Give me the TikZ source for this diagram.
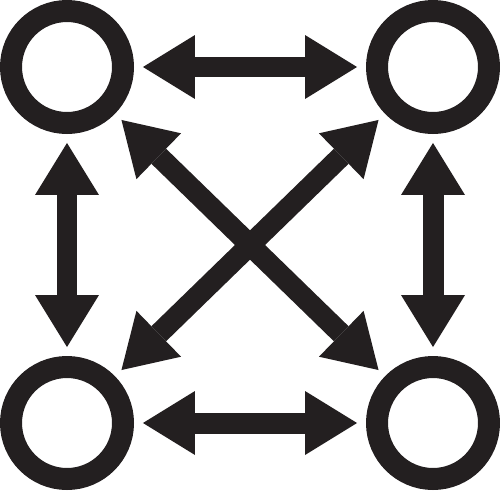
\documentclass[tikz,border=0pt]{standalone}
\usetikzlibrary{arrows.meta}
\definecolor{ink}{HTML}{231F20}

\begin{document}
\begin{tikzpicture}[x=0.02cm, y=-0.02cm,
            ring/.style={circle, draw=ink, line width=0.44cm, minimum size=2.24cm, inner sep=0pt, outer sep=0pt},
            head/.tip={Triangle[length=1.04cm 0 0, width=1.28cm 0 0, line width=0pt 0]},
            link/.style={draw=ink, line width=0.42cm, head-head, shorten <=0.4cm, shorten >=0.4cm}
        ]
            \useasboundingbox (0,0) rectangle (500,490);

            \node[ring] (tl) at (67,67) {};
            \node[ring] (tr) at (433,67) {};
            \node[ring] (bl) at (67,423) {};
            \node[ring] (br) at (433,423) {};

            % sides
            \draw[link] (tl) -- (tr);
            \draw[link] (bl) -- (br);
            \draw[link] (tl) -- (bl);
            \draw[link] (tr) -- (br);

            % diagonals
            \draw[link] (tl) -- (br);
            \draw[link] (tr) -- (bl);
        \end{tikzpicture}
\end{document}
